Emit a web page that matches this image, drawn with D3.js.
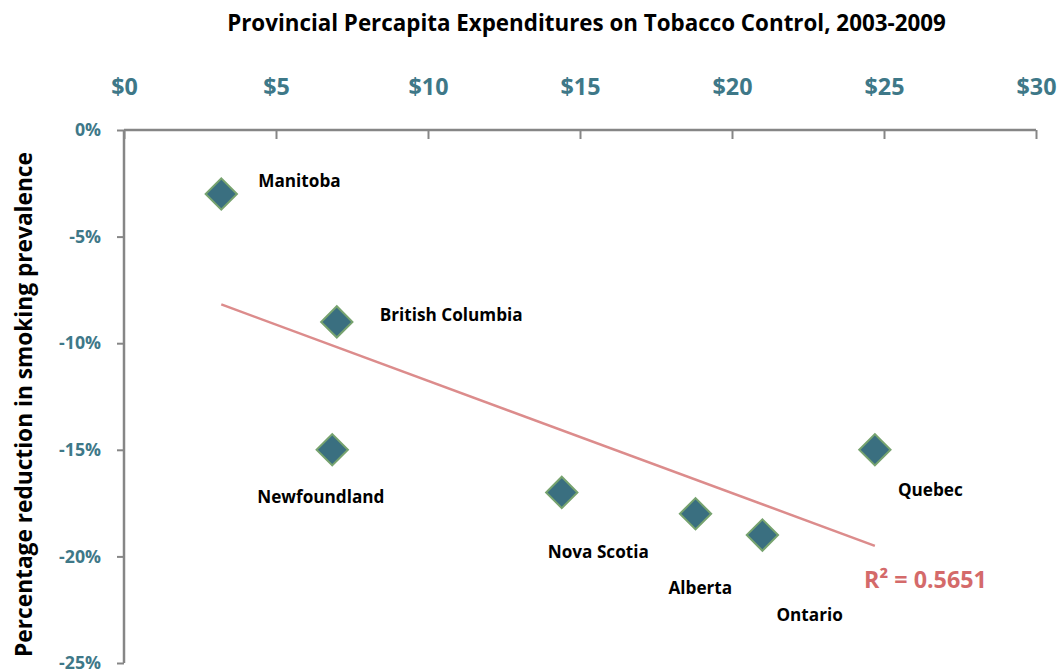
<!DOCTYPE html>
<html><head><meta charset="utf-8">
<script src="https://cdn.jsdelivr.net/npm/d3@7"></script>
<style>body{margin:0;background:#fff}svg{display:block}text{font-family:"Open Sans",Lato,sans-serif;font-weight:bold}</style>
</head><body>
<svg id="c" width="1059" height="671"></svg>
<script>
const provinces = ["Manitoba","British Columbia","Newfoundland","Nova Scotia","Alberta","Ontario","Quebec"];
const spending = [3.2, 7.0, 6.85, 14.4, 18.8, 21.0, 24.7];
const reduction = [-3, -9, -15, -17, -18, -19, -15];
const xTicks = [0,5,10,15,20,25,30];
const yTicks = [0,-5,-10,-15,-20,-25];
const r2Label = "R² = 0.5651";
const title = "Provincial Percapita Expenditures on Tobacco Control, 2003-2009";
const yTitle = "Percentage reduction in smoking prevalence";
// label offsets (dx, dy) relative to point, in px
const labelOffsets = [[37,-7],[43,-1],[-75,53],[-14,66],[-27,80],[14,86],[23,46]];

const svg = d3.select("#c");
const x = d3.scaleLinear().domain([0,30]).range([124,1036]);
const y = d3.scaleLinear().domain([0,-25]).range([130,663]);
const axisCol = "#868686", tickCol = "#3e7888";

// fit a font size so that a sample text gets a target width
function fitSize(sample, target, base){
  const t = svg.append("text").attr("font-size",base).text(sample);
  const w = t.node().getComputedTextLength(); t.remove();
  return base*target/w;
}
const fsTitle = fitSize(title, 719, 20);
const fsYTitle = fitSize(yTitle, 505, 20);
const fsLbl = fitSize("British Columbia", 143, 17);
const fsXT = fitSize("$10", 40, 20);
const fsYT = fitSize("-20%", 42, 18);
const fsR2 = fitSize(r2Label, 123, 22);

svg.append("text").attr("x",586.5).attr("y",31).attr("text-anchor","middle")
  .attr("font-size",fsTitle).attr("fill","#000").text(title);

const gx = svg.append("g").attr("transform","translate(0,130)")
  .call(d3.axisBottom(x).tickValues(xTicks).tickSize(9).tickFormat(d=>"$"+d));
gx.select(".domain").attr("stroke",axisCol).attr("stroke-width",2.5).attr("d","M124,0H1036");
gx.selectAll(".tick line").attr("stroke",axisCol).attr("stroke-width",2);
gx.selectAll(".tick text").attr("y",-35).attr("dy",0).attr("fill",tickCol).attr("font-size",fsXT).attr("font-family","Open Sans");

const gy = svg.append("g").attr("transform","translate(124,0)")
  .call(d3.axisLeft(y).tickValues(yTicks).tickSize(7).tickFormat(d=>d+"%"));
gy.select(".domain").attr("stroke",axisCol).attr("stroke-width",2.5).attr("d","M0,130V663");
gy.selectAll(".tick line").attr("stroke",axisCol).attr("stroke-width",2);
gy.selectAll(".tick text").attr("x",-23).attr("fill",tickCol).attr("font-size",fsYT).attr("font-family","Open Sans");

svg.append("text").attr("transform","translate(32,404.5) rotate(-90)").attr("text-anchor","middle")
  .attr("font-size",fsYTitle).attr("fill","#000").text(yTitle);

// least-squares trend line
const n = spending.length;
const mx = d3.mean(spending), my = d3.mean(reduction);
let sxy=0,sxx=0; for(let i=0;i<n;i++){sxy+=(spending[i]-mx)*(reduction[i]-my);sxx+=(spending[i]-mx)**2;}
const slope = sxy/sxx, icpt = my - slope*mx;
const x0 = d3.min(spending), x1 = d3.max(spending);
svg.append("line").attr("x1",x(x0)).attr("y1",y(icpt+slope*x0)).attr("x2",x(x1)).attr("y2",y(icpt+slope*x1))
  .attr("stroke","#dc8c8c").attr("stroke-width",2.5);

const pts = provinces.map((p,i)=>({p,x:spending[i],y:reduction[i],o:labelOffsets[i]}));
svg.selectAll("path.pt").data(pts).enter().append("path").attr("class","pt")
  .attr("d",d3.symbol(d3.symbolSquare, 490)())
  .attr("transform",d=>`translate(${x(d.x)},${y(d.y)}) rotate(45)`)
  .attr("fill","#3a6f80").attr("stroke","#77a36f").attr("stroke-width",2);

svg.selectAll("text.lbl").data(pts).enter().append("text").attr("class","lbl")
  .attr("x",d=>x(d.x)+d.o[0]).attr("y",d=>y(d.y)+d.o[1]).attr("font-size",fsLbl).attr("fill","#000").text(d=>d.p);

svg.append("text").attr("x",864).attr("y",588).attr("font-size",fsR2).attr("fill","#d46a6a").text(r2Label);
</script>
</body></html>
